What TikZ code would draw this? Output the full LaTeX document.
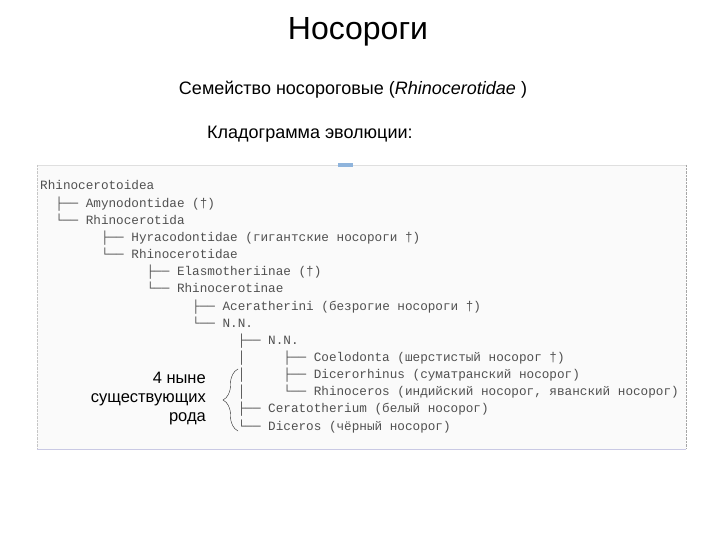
\documentclass[tikz,border=0pt]{standalone}
\usepackage{fontspec}
\setmainfont{Liberation Sans}
\newfontfamily\treefont{Liberation Mono}
\usetikzlibrary{decorations.pathreplacing}

\definecolor{treegray}{HTML}{505050}
\definecolor{panelfill}{HTML}{FAFAFA}
\definecolor{panelline}{HTML}{C9C9E4}
\definecolor{tabblue}{HTML}{8FB4DC}

\tikzset{
  treerow/.style={anchor=base west, inner sep=0pt, text=treegray,
    font=\treefont\fontsize{12.67}{14}\selectfont},
  heading/.style={inner sep=0pt, font=\fontsize{18}{21}\selectfont},
}

\begin{document}
\begin{tikzpicture}[x=1pt,y=-1pt]
    \useasboundingbox (0,0) rectangle (720,540);
    \fill [white] (0,0) rectangle (720,540);

    % headings
    \node [inner sep=0pt, anchor=base, font=\fontsize{32}{36}\selectfont] (title) at (358,40) {Носороги};
    \node [heading, anchor=base] (family) at (353,95) {Семейство носороговые (\textit{Rhinocerotidae} )};
    \node [heading, anchor=base west] (clado) at (207,139) {Кладограмма эволюции:};

    % panel
    \fill [panelfill] (37,165) rectangle (686,449);
    \draw [gray!25] (37,165)--(686,165);
    \draw [gray!45,densely dotted] (37,165)--(37,449);
    \draw [gray!70,densely dotted] (686,165)--(686,449);
    \draw [panelline,thick] (37,449)--(686,449);
    \fill [tabblue] (338,163) rectangle (353,167);

    % cladogram rows (column width 7.6)
    \node [treerow] (rhinocerotoidea) at (40,190)   {Rhinocerotoidea};
    \node [treerow] (amynodontidae)   at (55.2,207.1) {├── Amynodontidae (†)};
    \node [treerow] (rhinocerotida)   at (55.2,224.3) {└── Rhinocerotida};
    \node [treerow] (hyracodontidae)  at (100.8,241.4) {├── Hyracodontidae (гигантские носороги †)};
    \node [treerow] (rhinocerotidae)  at (100.8,258.6) {└── Rhinocerotidae};
    \node [treerow] (elasmotheriinae) at (146.4,275.7) {├── Elasmotheriinae (†)};
    \node [treerow] (rhinocerotinae)  at (146.4,292.8) {└── Rhinocerotinae};
    \node [treerow] (aceratherini)    at (192,310)    {├── Aceratherini (безрогие носороги †)};
    \node [treerow] (nn1)             at (192,327.1)  {└── N.N.};
    \node [treerow] (nn2)             at (237.6,344.3) {├── N.N.};
    \node [treerow] (coelodonta)      at (237.6,361.4) {│\ \ \ \ \ ├── Coelodonta (шерстистый носорог †)};
    \node [treerow] (dicerorhinus)    at (237.6,378.5) {│\ \ \ \ \ ├── Dicerorhinus (суматранский носорог)};
    \node [treerow] (rhinoceros)      at (237.6,395.7) {│\ \ \ \ \ └── Rhinoceros (индийский носорог, яванский носорог)};
    \node [treerow] (ceratotherium)   at (237.6,412.8) {├── Ceratotherium (белый носорог)};
    \node [treerow] (diceros)         at (237.6,430)  {└── Diceros (чёрный носорог)};

    % living genera
    \coordinate (bracetop) at (238,369);
    \coordinate (bracebot) at (238,431);
    \draw [gray!30!black,decorate,decoration={brace,amplitude=15pt}] (bracebot)--(bracetop) node [midway] (bracetip) {};
    \node [inner sep=0pt, anchor=east, align=right, font=\fontsize{16.5}{19}\selectfont] (living) at (206,399)
        {4 ныне\\существующих\\рода};
\end{tikzpicture}
\end{document}
